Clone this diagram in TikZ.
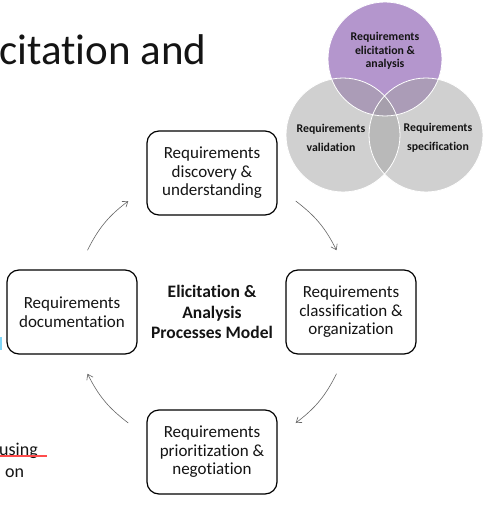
\documentclass[tikz,border=0pt]{standalone}
\usepackage{fontspec}
\setmainfont{Carlito}[Ligatures=NoCommon]
\usetikzlibrary{arrows.meta}
\definecolor{venpurple}{RGB}{180,150,205}
\definecolor{vengray}{RGB}{163,163,163}
\definecolor{txtdark}{RGB}{20,20,20}
\tikzset{
  procbox/.style={draw=black, line width=1.2pt, rounded corners=12pt, minimum width=130pt, minimum height=84pt, align=center, inner sep=2pt, font=\fontsize{17}{18.5}\selectfont, text=txtdark},
  cyclearrow/.style={draw=black!60, line width=0.6pt, -{Straight Barb[length=5pt,width=7pt]}},
  venntext/.style={align=center, font=\bfseries\fontsize{11.8}{13.5}\selectfont, text=txtdark},
  venntextb/.style={align=center, font=\bfseries\fontsize{11.8}{19}\selectfont, text=txtdark},
}
\begin{document}
\begin{tikzpicture}[x=1pt,y=-1pt]
\useasboundingbox (0,0) rectangle (485,508);
\fill[white] (0,0) rectangle (485,508);
% Venn diagram
\fill[venpurple] (385,59) circle[radius=57];
\fill[vengray, opacity=0.5] (343,135) circle[radius=57];
\fill[vengray, opacity=0.5] (426,135) circle[radius=57];
\draw[white, line width=0.8pt] (385,59) circle[radius=57];
\draw[white, line width=0.8pt] (343,135) circle[radius=57];
\draw[white, line width=0.8pt] (426,135) circle[radius=57];
\node[venntext] (vtop) at (385,51) {Requirements\\elicitation \&\\analysis};
\node[venntextb] (vleft) at (331,138) {Requirements\\validation};
\node[venntextb] (vright) at (438,138) {Requirements\\specification};
% Title fragment
\node[anchor=base west, inner sep=0, font=\fontsize{43}{50}\selectfont, text=txtdark] (title) at (-1,65) {citation and};
% Bottom-left fragments
\node[anchor=base west, inner sep=0, font=\fontsize{18}{22}\selectfont, text=txtdark] (using) at (-1,455) {using};
\node[anchor=base west, inner sep=0, font=\fontsize{18}{22}\selectfont, text=txtdark] (on) at (5,477) {on};
\draw[red!70!white, line width=1.2pt] (0,456) -- (47,456);
\fill[cyan!50] (0,337) rectangle (2,350);
% Process boxes
\node[procbox] (disc) at (212,173) {Requirements\\discovery \&\\understanding};
\node[procbox] (class) at (351,312) {Requirements\\classification \&\\organization};
\node[procbox] (prio) at (212,452) {Requirements\\prioritization \&\\negotiation};
\node[procbox] (doc) at (72,312) {Requirements\\documentation};
\node[align=center, font=\bfseries\fontsize{17.5}{20.5}\selectfont, text=txtdark] (center) at (212,312) {Elicitation \&\\Analysis\\Processes Model};
% Cycle arrows
\coordinate (a1s) at (87.5,250.2);
\coordinate (a1e) at (128.3,201);
\coordinate (a2s) at (295.7,201);
\coordinate (a2e) at (336.5,250.2);
\coordinate (a3s) at (336.5,373.8);
\coordinate (a3e) at (295.7,423);
\coordinate (a4s) at (128.3,423);
\coordinate (a4e) at (87.5,373.8);
\draw[cyclearrow] (a1s) to[bend left=13] (a1e);
\draw[cyclearrow] (a2s) to[bend left=13] (a2e);
\draw[cyclearrow] (a3s) to[bend left=13] (a3e);
\draw[cyclearrow] (a4s) to[bend left=13] (a4e);
\end{tikzpicture}
\end{document}
